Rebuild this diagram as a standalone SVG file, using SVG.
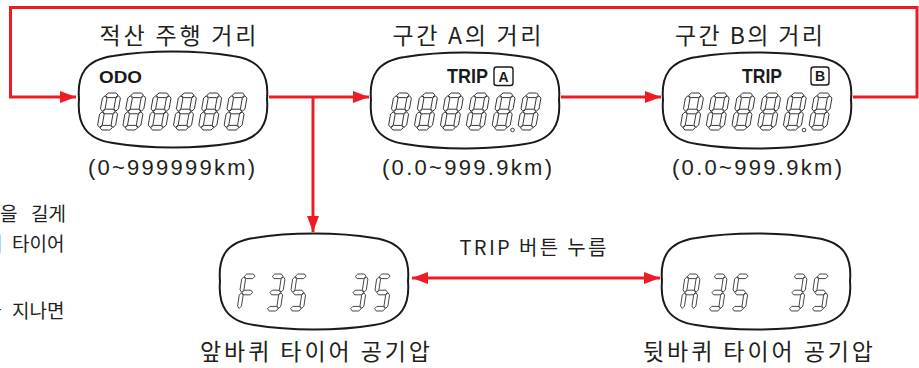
<svg xmlns="http://www.w3.org/2000/svg" xmlns:xlink="http://www.w3.org/1999/xlink" width="919" height="368" viewBox="0 0 919 368">
<style>
.conn{fill:none;stroke:#ED1C24;stroke-width:3}
.node{fill:#fff;stroke:#1a1a1a;stroke-width:2}
.ko{font-family:"Noto Sans CJK KR","Liberation Sans",sans-serif;fill:#231F20}
.lat{font-family:"Liberation Sans","Noto Sans CJK KR",sans-serif;fill:#231F20}
.bold{font-family:"Liberation Sans",Arial,sans-serif;font-weight:bold;fill:#1a1a1a}
.dot{fill:#fff;stroke:#2a2a2a;stroke-width:0.9}
</style>
<defs>
<marker id="arr" viewBox="0 0 16 12" refX="16" refY="6" markerWidth="16" markerHeight="12" markerUnits="userSpaceOnUse" orient="auto-start-reverse">
<path d="M0,0 L16,6 L0,12 Z" fill="#ED1C24"/>
</marker>
<path id="cushion" d="M2,48 C0,24 8,9 36,5 C72,-1 120,-1 156,5 C184,9 192,24 190,48 C192,72 184,88 156,92 C120,98 72,98 36,92 C8,88 0,72 2,48 Z"/>
<polygon id="sa" fill="#fff" stroke="#2a2a2a" stroke-width="0.9" stroke-linejoin="round" points="2.8,2.3 5.1,0 12.9,0 15.2,2.3 12.9,4.6 5.1,4.6"/>
<polygon id="sgm" fill="#fff" stroke="#2a2a2a" stroke-width="0.9" stroke-linejoin="round" points="2.8,18.5 5.1,16.2 12.9,16.2 15.2,18.5 12.9,20.8 5.1,20.8"/>
<polygon id="sd" fill="#fff" stroke="#2a2a2a" stroke-width="0.9" stroke-linejoin="round" points="2.8,34.7 5.1,32.4 12.9,32.4 15.2,34.7 12.9,37 5.1,37"/>
<polygon id="sf" fill="#fff" stroke="#2a2a2a" stroke-width="0.9" stroke-linejoin="round" points="2.3,2.8 4.6,5.1 4.6,15.9 2.3,18.2 0,15.9 0,5.1"/>
<polygon id="sb" fill="#fff" stroke="#2a2a2a" stroke-width="0.9" stroke-linejoin="round" points="15.7,2.8 18,5.1 18,15.9 15.7,18.2 13.4,15.9 13.4,5.1"/>
<polygon id="se" fill="#fff" stroke="#2a2a2a" stroke-width="0.9" stroke-linejoin="round" points="2.3,18.8 4.6,21.1 4.6,32.1 2.3,34.4 0,32.1 0,21.1"/>
<polygon id="sc" fill="#fff" stroke="#2a2a2a" stroke-width="0.9" stroke-linejoin="round" points="15.7,18.8 18,21.1 18,32.1 15.7,34.4 13.4,32.1 13.4,21.1"/>
<g id="d8" transform="skewX(-10)"><use href="#sa"/><use href="#sb"/><use href="#sc"/><use href="#sd"/><use href="#se"/><use href="#sf"/><use href="#sgm"/></g>
<g id="dF" transform="skewX(-10)"><use href="#sa"/><use href="#sf"/><use href="#sgm"/><use href="#se"/></g>
<g id="d3" transform="skewX(-10)"><use href="#sa"/><use href="#sb"/><use href="#sgm"/><use href="#sc"/><use href="#sd"/></g>
<g id="d5" transform="skewX(-10)"><use href="#sa"/><use href="#sf"/><use href="#sgm"/><use href="#sc"/><use href="#sd"/></g>
<g id="dA" transform="skewX(-10)"><use href="#sa"/><use href="#sb"/><use href="#sc"/><use href="#se"/><use href="#sf"/><use href="#sgm"/></g>
</defs>
<rect width="919" height="368" fill="#fff"/>

<g id="connectors">
<polyline class="conn" points="853,97 917,97 917,7.5 10.5,7.5 10.5,97 76,97" marker-end="url(#arr)"/>
<polyline class="conn" points="269,97 369,97" marker-end="url(#arr)"/>
<polyline class="conn" points="313,97 313,232" marker-end="url(#arr)"/>
<polyline class="conn" points="561,97 661,97" marker-end="url(#arr)"/>
<polyline class="conn" points="412,278 660,278" marker-start="url(#arr)" marker-end="url(#arr)"/>
</g>

<g id="node-odo">
<text class="ko" x="178" y="44" font-size="23" text-anchor="middle" textLength="157" lengthAdjust="spacing">적산 주행 거리</text>
<use href="#cushion" class="node" transform="translate(77,51)"/>
<text class="bold" x="99" y="83" font-size="17" textLength="43" lengthAdjust="spacingAndGlyphs">ODO</text>
<use href="#d8" transform="translate(103.3,93)"/>
<use href="#d8" transform="translate(128.6,93)"/>
<use href="#d8" transform="translate(153.9,93)"/>
<use href="#d8" transform="translate(179.2,93)"/>
<use href="#d8" transform="translate(204.5,93)"/>
<use href="#d8" transform="translate(229.8,93)"/>
<text class="lat" x="171.5" y="175" font-size="22" text-anchor="middle" textLength="167" lengthAdjust="spacing">(0~999999km)</text>
</g>

<g id="node-trip-a">
<text class="ko" x="467" y="44" font-size="23" text-anchor="middle" textLength="149" lengthAdjust="spacing">구간 A의 거리</text>
<use href="#cushion" class="node" transform="translate(369,52)"/>
<text class="bold" x="447" y="83" font-size="20" textLength="41" lengthAdjust="spacingAndGlyphs">TRIP</text>
<rect x="494" y="67" width="19" height="18.5" rx="2.5" fill="#fff" stroke="#1a1a1a" stroke-width="1.4"/>
<text class="bold" x="503.5" y="81.5" font-size="14" text-anchor="middle">A</text>
<use href="#d8" transform="translate(394.3,93)"/>
<use href="#d8" transform="translate(420.2,93)"/>
<use href="#d8" transform="translate(446.1,93)"/>
<use href="#d8" transform="translate(472,93)"/>
<use href="#d8" transform="translate(497.9,93)"/>
<use href="#d8" transform="translate(523.8,93)"/>
<circle class="dot" cx="512.5" cy="130" r="1.8"/>
<text class="lat" x="467" y="175" font-size="22" text-anchor="middle" textLength="170" lengthAdjust="spacing">(0.0~999.9km)</text>
</g>

<g id="node-trip-b">
<text class="ko" x="749" y="44" font-size="23" text-anchor="middle" textLength="148" lengthAdjust="spacing">구간 B의 거리</text>
<use href="#cushion" class="node" transform="translate(661,52)"/>
<text class="bold" x="742" y="83" font-size="20" textLength="40" lengthAdjust="spacingAndGlyphs">TRIP</text>
<rect x="811" y="67" width="18" height="18" rx="2.5" fill="#fff" stroke="#1a1a1a" stroke-width="1.4"/>
<text class="bold" x="820" y="81" font-size="14" text-anchor="middle">B</text>
<use href="#d8" transform="translate(686.3,93)"/>
<use href="#d8" transform="translate(712,93)"/>
<use href="#d8" transform="translate(737.7,93)"/>
<use href="#d8" transform="translate(763.4,93)"/>
<use href="#d8" transform="translate(789.1,93)"/>
<use href="#d8" transform="translate(814.8,93)"/>
<circle class="dot" cx="804" cy="130" r="1.8"/>
<text class="lat" x="757" y="175" font-size="22" text-anchor="middle" textLength="170" lengthAdjust="spacing">(0.0~999.9km)</text>
</g>

<g id="node-front">
<use href="#cushion" class="node" transform="translate(218,233)"/>
<use href="#dF" transform="translate(242.4,274) scale(0.85,1)"/>
<use href="#d3" transform="translate(270.4,274) scale(0.85,1)"/>
<use href="#d5" transform="translate(293.4,274) scale(0.85,1)"/>
<use href="#d3" transform="translate(353.4,274) scale(0.85,1)"/>
<use href="#d5" transform="translate(377.4,274) scale(0.85,1)"/>
<text class="ko" x="315" y="360" font-size="23" text-anchor="middle" textLength="230" lengthAdjust="spacing">앞바퀴 타이어 공기압</text>
</g>

<g id="node-rear">
<use href="#cushion" class="node" transform="translate(660,233)"/>
<use href="#dA" transform="translate(685.4,274) scale(0.85,1)"/>
<use href="#d3" transform="translate(712.4,274) scale(0.85,1)"/>
<use href="#d5" transform="translate(735.4,274) scale(0.85,1)"/>
<use href="#d3" transform="translate(792.4,274) scale(0.85,1)"/>
<use href="#d5" transform="translate(815.4,274) scale(0.85,1)"/>
<text class="ko" x="758" y="360" font-size="23" text-anchor="middle" textLength="230" lengthAdjust="spacing">뒷바퀴 타이어 공기압</text>
</g>

<g id="label-trip-button">
<text class="ko" x="533" y="255" font-size="20" text-anchor="middle" textLength="147" lengthAdjust="spacing">TRIP 버튼 누름</text>
</g>

<g id="side-note">
<text class="ko" font-size="19" y="221"><tspan x="0">을</tspan><tspan x="31">길게</tspan></text>
<text class="ko" font-size="19" y="251"><tspan x="-15">서</tspan><tspan x="12">타이어</tspan></text>
<text class="ko" font-size="19" y="318"><tspan x="-16">가</tspan><tspan x="12">지나면</tspan></text>
</g>
</svg>
